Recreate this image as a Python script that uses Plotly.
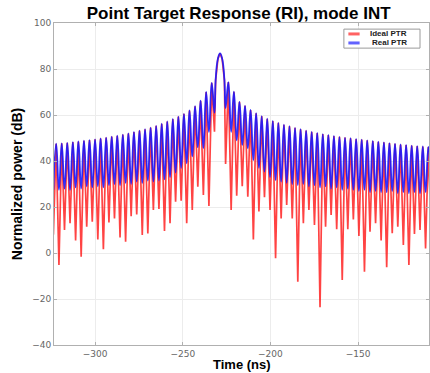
import numpy as np
import plotly.graph_objects as go

# ---- data ----
center_time = -228.75     # ns, main-lobe peak position
lobe_period = 3.17        # ns, spacing between nulls
main_peak = 86.8          # dB
# main-lobe outline: offsets from the peak (ns) and levels (dB)
main_lobe_offsets = [-2.5, -1.2, 1.2, 2.5]
main_lobe_levels = [75.2, 84.5, 84.5, 75.2]

# sidelobe peak levels (dB), n = 1.. outward
peaks_left = [74.0, 70.0, 66.2, 63.8, 62.0, 60.5, 59.3, 58.3, 57.2, 56.2, 55.3, 54.5, 53.8, 53.2, 52.6,
              52.0, 51.5, 51.0, 50.6, 50.2, 49.8, 49.4, 49.1, 48.8, 48.5, 48.2, 47.9, 47.7, 47.5, 47.3]
peaks_right = [74.3, 70.1, 65.7, 64.0, 62.2, 60.8, 59.5, 58.4, 57.4, 56.6, 55.8, 55.1, 54.4, 53.8, 53.2,
               52.7, 52.2, 51.7, 51.3, 50.9, 50.5, 50.2, 49.9, 49.6, 49.3, 49.0, 48.7, 48.4, 48.1, 47.8,
               47.5, 47.2, 47.0, 46.7, 46.5, 46.3, 46.1]

# null levels (dB), k = 1.. outward
real_nulls_left = [61.0, 52.7, 45.6, 46.0, 42.0, 39.0, 37.0, 35.0, 33.0, 32.0, 31.5, 31.0, 31.5, 30.5, 31.0,
                   30.0, 30.5, 29.5, 30.0, 29.5, 28.5, 29.0, 28.5, 29.0, 28.0, 28.5, 27.5, 28.0, 27.5, 27.5]
real_nulls_right = [63.0, 52.7, 49.0, 47.0, 45.6, 40.4, 37.0, 35.4, 33.0, 31.7, 31.0, 30.5, 30.0, 29.5, 30.0,
                    29.0, 29.5, 28.5, 29.0, 28.0, 28.5, 27.5, 28.0, 27.5, 27.0, 27.5, 26.5, 27.0, 26.5, 26.5,
                    27.0, 26.0, 26.5, 26.0, 26.5, 26.0, 26.5, 26.0]
ideal_nulls_left = [52.7, 20.4, 25.2, 28.8, 18.7, 12.9, 22.7, 22.3, 12.9, 9.6, 19.1, 18.7, 8.5, 7.8, 16.8,
                    16.0, 4.9, 6.8, 15.0, 13.3, 1.6, 5.9, 13.6, 11.4, -1.6, 5.4, 12.9, 10.0, -5.2, 8.0]
ideal_nulls_right = [38.7, 18.7, 24.9, 29.0, 24.5, 5.9, 18.0, 24.2, 18.7, -2.3, 15.0, 20.9, 15.0, -12.5, 12.9,
                     18.7, 12.2, -23.6, 11.4, 16.5, 10.3, -11.7, 10.3, 14.6, 7.4, -8.1, 9.3, 12.9, 5.4, -6.2,
                     8.6, 11.4, 3.5, -5.2, 8.3, 10.0, 2.0, 8.0]

series_names = ["Ideal PTR", "Real PTR"]
series_colors = ["rgba(255,20,20,0.8)", "rgba(20,20,255,0.88)"]
legend_colors = ["rgba(255,70,70,0.85)", "rgba(70,70,255,0.85)"]

x_ticks = [-300, -250, -200, -150]
y_ticks = [-40, -20, 0, 20, 40, 60, 80, 100]


def build(nulls_left, nulls_right):
    t, v = [], []
    nl = len(nulls_left)
    for k in range(nl, 0, -1):
        t.append(center_time - k * lobe_period); v.append(nulls_left[k - 1])
        if k - 1 >= 1:
            t.append(center_time - (k - 0.5) * lobe_period); v.append(peaks_left[k - 2])
    # main lobe
    for off, lev in zip(main_lobe_offsets[:2], main_lobe_levels[:2]):
        t.append(center_time + off); v.append(lev)
    t.append(center_time); v.append(main_peak)
    for off, lev in zip(main_lobe_offsets[2:], main_lobe_levels[2:]):
        t.append(center_time + off); v.append(lev)
    nr = len(nulls_right)
    for k in range(1, nr + 1):
        t.append(center_time + k * lobe_period); v.append(nulls_right[k - 1])
        if k <= len(peaks_right) and k < nr:
            t.append(center_time + (k + 0.5) * lobe_period); v.append(peaks_right[k - 1])
    return t, v


ti, vi = build(ideal_nulls_left, ideal_nulls_right)
tr, vr = build(real_nulls_left, real_nulls_right)

fig = go.Figure()
fig.add_trace(go.Scatter(x=ti, y=vi, mode="lines", name=series_names[0], showlegend=False,
                         line=dict(color=series_colors[0], width=1.7)))
fig.add_trace(go.Scatter(x=tr, y=vr, mode="lines", name=series_names[1], showlegend=False,
                         line=dict(color=series_colors[1], width=1.8, shape="spline", smoothing=1.3)))

# compact legend box (drawn in paper coordinates)
fig.add_shape(type="rect", xref="paper", yref="paper", x0=0.773, x1=0.976, y0=0.922, y1=0.981,
              line=dict(color="#9a9a9a", width=1), fillcolor="white", layer="above")
for i, (yy, xt) in enumerate([(0.966, 0.838), (0.938, 0.843)]):
    fig.add_shape(type="line", xref="paper", yref="paper", x0=0.785, x1=0.815, y0=yy, y1=yy,
                  line=dict(color=legend_colors[i], width=3), layer="above")
    fig.add_annotation(xref="paper", yref="paper", x=xt, y=yy, xanchor="left", yanchor="middle",
                       text="<b>" + series_names[i] + "</b>", showarrow=False,
                       font=dict(family="Liberation Sans", size=8, color="#222222"))

# x-axis title placed just under the tick labels
fig.add_annotation(xref="paper", yref="paper", x=0.5, y=-0.062, xanchor="center", yanchor="middle",
                   text="<b>Time (ns)</b>", showarrow=False,
                   font=dict(family="Liberation Sans", size=13, color="black"))

axis_common = dict(showgrid=True, gridcolor="#ececec", gridwidth=1, zeroline=False,
                   showline=True, linecolor="#b0b0b0", linewidth=1, mirror="ticks",
                   ticks="inside", ticklen=3, tickcolor="#b0b0b0",
                   tickfont=dict(family="DejaVu Sans", size=9, color="#666666"))

fig.update_layout(
    width=430, height=373,
    margin=dict(l=54, r=1, t=23, b=28),
    paper_bgcolor="white", plot_bgcolor="white",
    title=dict(text="<b>Point Target Response (RI), mode INT</b>", x=0.555, xanchor="center",
               y=0.965, yanchor="middle",
               font=dict(family="Liberation Sans", size=17, color="black")),
    xaxis=dict(range=[-323.5, -109.5], tickvals=x_ticks, ticklabelstandoff=0, **axis_common),
    yaxis=dict(range=[-40, 100], tickvals=y_ticks,
               title=dict(text="<b>Normalized power (dB)</b>", standoff=6,
                          font=dict(family="Liberation Sans", size=14, color="black")),
               **axis_common),
    showlegend=False,
)

fig.write_html("out.html")
